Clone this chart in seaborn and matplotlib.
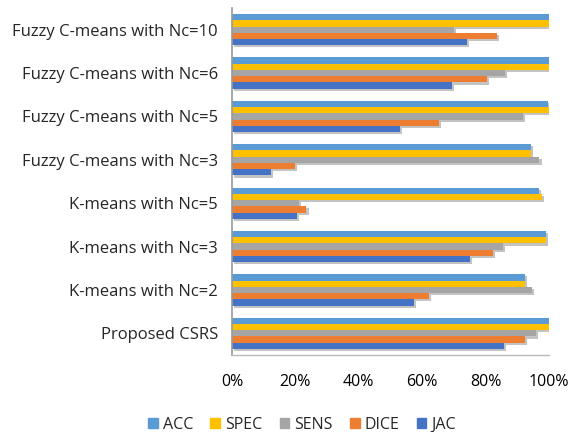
import matplotlib
matplotlib.use("Agg")
import matplotlib.pyplot as plt
import matplotlib.patheffects as pe
from matplotlib.ticker import PercentFormatter
import seaborn as sns
import pandas as pd

methods = [
    "Fuzzy C-means with Nc=10",
    "Fuzzy C-means with Nc=6",
    "Fuzzy C-means with Nc=5",
    "Fuzzy C-means with Nc=3",
    "K-means with Nc=5",
    "K-means with Nc=3",
    "K-means with Nc=2",
    "Proposed CSRS",
]
metrics = ["ACC", "SPEC", "SENS", "DICE", "JAC"]

acc  = [0.999, 0.999, 0.997, 0.942, 0.967, 0.990, 0.924, 1.000]
spec = [1.000, 0.999, 0.999, 0.942, 0.977, 0.990, 0.924, 1.000]
sens = [0.700, 0.860, 0.917, 0.970, 0.210, 0.856, 0.945, 0.960]
dice = [0.835, 0.803, 0.652, 0.200, 0.235, 0.822, 0.621, 0.924]
jac  = [0.740, 0.693, 0.530, 0.124, 0.206, 0.750, 0.573, 0.857]

colors = ["#5B9BD5", "#FFC000", "#A5A5A5", "#ED7D31", "#4472C4"]

df = pd.DataFrame({
    "method": methods * 5,
    "metric": sum([[m] * len(methods) for m in metrics], []),
    "value": acc + spec + sens + dice + jac,
})

sns.set_style("white")
plt.rcParams["font.family"] = ["Open Sans", "DejaVu Sans"]

fig = plt.figure(figsize=(5.71, 4.32), dpi=100)
ax = fig.add_axes([232 / 571, 1 - 355 / 432, 317 / 571, 347 / 432])

sns.barplot(data=df, x="value", y="method", hue="metric", order=methods,
            hue_order=metrics, palette=colors, orient="h", width=0.72,
            saturation=1, errorbar=None, ax=ax, legend=True)

shadow = [pe.SimplePatchShadow(offset=(1.5, -1.5), shadow_rgbFace="#555555", alpha=0.35),
          pe.Normal()]
for p in ax.patches:
    p.set_path_effects(shadow)
    p.set_linewidth(0)

ax.set_xlim(0, 1.0)
ax.set_xticks([0, 0.2, 0.4, 0.6, 0.8, 1.0])
ax.xaxis.set_major_formatter(PercentFormatter(1.0, decimals=0))
ax.set_xlabel("")
ax.set_ylabel("")
ax.tick_params(axis="x", labelsize=11.5, length=0, pad=14, colors="#000000")
ax.tick_params(axis="y", labelsize=12, length=0, pad=10)

for side in ["top", "right"]:
    ax.spines[side].set_visible(False)
ax.spines["left"].set_color("#999999")
ax.spines["bottom"].set_color("#bbbbbb")
ax.spines["left"].set_linewidth(1.2)
ax.spines["bottom"].set_linewidth(1.0)

ax.get_legend().remove()
handles = [plt.Rectangle((0, 0), 1, 1, color=c) for c in colors]
fig.legend(handles, metrics, loc="center", bbox_to_anchor=(302 / 571, 1 - 425 / 432),
           ncol=5, frameon=False, fontsize=11.5, handlelength=0.6, handleheight=0.6,
           handletextpad=0.3, columnspacing=1.1)

fig.savefig("out.png", dpi=100)
